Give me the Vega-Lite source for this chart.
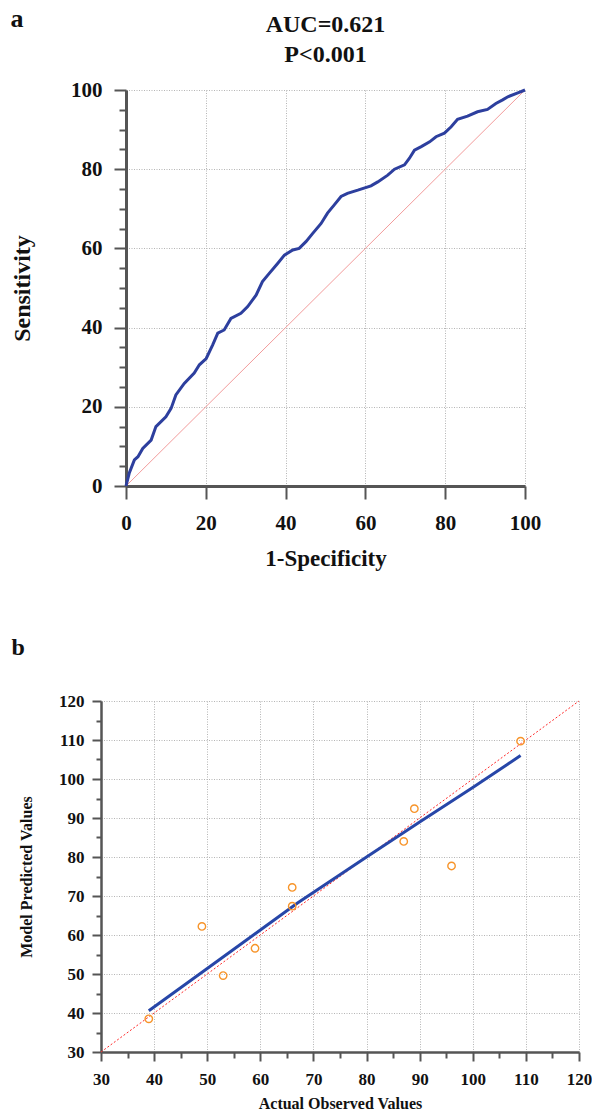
{
  "$schema": "https://vega.github.io/schema/vega-lite/v6.json",
  "background": "white",
  "padding": {"left": 10, "top": 6, "right": 0, "bottom": 0},
  "spacing": 66,
  "config": {
    "font": "Liberation Serif",
    "view": {"stroke": null},
    "axis": {
      "labelFont": "Liberation Serif",
      "labelFontWeight": "bold",
      "labelColor": "#111111",
      "titleFont": "Liberation Serif",
      "titleFontWeight": "bold",
      "titleColor": "#111111",
      "domainColor": "#555555",
      "tickColor": "#555555",
      "tickWidth": 2,
      "gridColor": "#b5b5b5",
      "gridDash": [1, 1.5],
      "gridWidth": 1,
      "labelOverlap": false,
      "labelBound": false,
      "labelFlush": false
    },
    "title": {"font": "Liberation Serif", "fontWeight": "bold", "color": "#111111"}
  },
  "datasets": {
    "roc": [
      {"fpr": 0, "tpr": 0}, {"fpr": 0.8, "tpr": 3.2}, {"fpr": 2.1, "tpr": 6.6}, {"fpr": 3.0, "tpr": 7.4},
      {"fpr": 4.2, "tpr": 9.5}, {"fpr": 6.3, "tpr": 11.6}, {"fpr": 7.5, "tpr": 15.0}, {"fpr": 10.0, "tpr": 17.5},
      {"fpr": 11.3, "tpr": 19.6}, {"fpr": 12.5, "tpr": 23.0}, {"fpr": 14.6, "tpr": 25.9}, {"fpr": 17.1, "tpr": 28.5},
      {"fpr": 18.4, "tpr": 30.6}, {"fpr": 20.1, "tpr": 32.2}, {"fpr": 21.7, "tpr": 35.6}, {"fpr": 23.0, "tpr": 38.6},
      {"fpr": 24.6, "tpr": 39.4}, {"fpr": 26.3, "tpr": 42.3}, {"fpr": 28.8, "tpr": 43.6}, {"fpr": 30.5, "tpr": 45.3},
      {"fpr": 32.6, "tpr": 48.2}, {"fpr": 34.2, "tpr": 51.6}, {"fpr": 35.9, "tpr": 53.7}, {"fpr": 38.0, "tpr": 56.2},
      {"fpr": 39.7, "tpr": 58.3}, {"fpr": 41.8, "tpr": 59.6}, {"fpr": 43.4, "tpr": 60.0}, {"fpr": 45.1, "tpr": 61.7},
      {"fpr": 46.8, "tpr": 63.8}, {"fpr": 48.9, "tpr": 66.3}, {"fpr": 50.5, "tpr": 68.9}, {"fpr": 52.2, "tpr": 71.0},
      {"fpr": 53.9, "tpr": 73.1}, {"fpr": 55.5, "tpr": 73.9}, {"fpr": 58.1, "tpr": 74.7}, {"fpr": 61.4, "tpr": 75.8},
      {"fpr": 63.1, "tpr": 76.8}, {"fpr": 65.6, "tpr": 78.5}, {"fpr": 67.3, "tpr": 80.0}, {"fpr": 69.8, "tpr": 81.1},
      {"fpr": 71.0, "tpr": 82.7}, {"fpr": 72.3, "tpr": 84.8}, {"fpr": 74.0, "tpr": 85.7}, {"fpr": 76.1, "tpr": 86.9},
      {"fpr": 77.7, "tpr": 88.2}, {"fpr": 79.8, "tpr": 89.1}, {"fpr": 81.5, "tpr": 90.7}, {"fpr": 83.1, "tpr": 92.6},
      {"fpr": 85.6, "tpr": 93.4}, {"fpr": 88.1, "tpr": 94.5}, {"fpr": 90.6, "tpr": 95.1}, {"fpr": 92.7, "tpr": 96.6},
      {"fpr": 94.4, "tpr": 97.5}, {"fpr": 95.7, "tpr": 98.3}, {"fpr": 98.2, "tpr": 99.3}, {"fpr": 100, "tpr": 100}
    ],
    "rocDiag": [{"fpr": 0, "tpr": 0}, {"fpr": 100, "tpr": 100}],
    "points": [
      {"actual": 39, "predicted": 38.5}, {"actual": 49, "predicted": 62.2}, {"actual": 53, "predicted": 49.6},
      {"actual": 59, "predicted": 56.6}, {"actual": 66, "predicted": 72.2}, {"actual": 66, "predicted": 67.4},
      {"actual": 87, "predicted": 84.0}, {"actual": 89, "predicted": 92.4}, {"actual": 96, "predicted": 77.7},
      {"actual": 109, "predicted": 109.7}
    ],
    "fit": [
      {"actual": 39, "predicted": 40.6}, {"actual": 50, "predicted": 51.4}, {"actual": 60, "predicted": 61.3},
      {"actual": 67, "predicted": 68.2}, {"actual": 80, "predicted": 80.0}, {"actual": 90, "predicted": 89.0},
      {"actual": 100, "predicted": 97.8}, {"actual": 109, "predicted": 106.0}
    ],
    "diagB": [{"actual": 30, "predicted": 30}, {"actual": 120, "predicted": 120}],
    "empty": []
  },
  "vconcat": [
    {
      "title": {"text": "a", "anchor": "start", "fontSize": 26, "offset": -19},
      "spacing": -92,
      "hconcat": [
        {
          "width": 1,
          "height": 1,
          "data": {"name": "empty"},
          "mark": {"type": "point"}
        },
        {
          "title": {
            "text": "AUC=0.621",
            "subtitle": "P<0.001",
            "anchor": "middle",
            "frame": "group",
            "fontSize": 24,
            "subtitleFont": "Liberation Serif",
            "subtitleFontSize": 24,
            "subtitleFontWeight": "bold",
            "subtitleColor": "#111111",
            "subtitlePadding": 6,
            "offset": 12
          },
          "width": 399,
          "height": 396,
          "encoding": {
            "x": {
              "field": "fpr", "type": "quantitative",
              "scale": {"domain": [0, 100], "nice": false, "zero": false},
              "axis": {
                "title": "1-Specificity",
                "values": [0, 20, 40, 60, 80, 100],
                "labelFontSize": 21,
                "titleFontSize": 23,
                "tickSize": 13,
                "labelPadding": 13,
                "titlePadding": 14,
                "domainWidth": 3
              }
            },
            "y": {
              "field": "tpr", "type": "quantitative",
              "scale": {"domain": [0, 100], "nice": false, "zero": false},
              "axis": {
                "title": "Sensitivity",
                "values": [0, 5, 10, 15, 20, 25, 30, 35, 40, 45, 50, 55, 60, 65, 70, 75, 80, 85, 90, 95, 100],
                "labelExpr": "datum.value % 20 === 0 ? datum.label : ''",
                "tickSize": {"condition": {"test": "datum.value % 20 === 0", "value": 12}, "value": 7},
                "gridOpacity": {"condition": {"test": "datum.value % 20 === 0", "value": 1}, "value": 0},
                "labelFontSize": 21,
                "titleFontSize": 24,
                "labelPadding": 12,
                "titlePadding": 36,
                "domainWidth": 3
              }
            }
          },
          "layer": [
            {
              "data": {"name": "rocDiag"},
              "mark": {"type": "line", "color": "#f29b9b", "strokeWidth": 1}
            },
            {
              "data": {"name": "roc"},
              "mark": {"type": "line", "color": "#2d3f9e", "strokeWidth": 3}
            }
          ]
        }
      ]
    },
    {
      "title": {"text": "b", "anchor": "start", "fontSize": 24, "offset": 32, "dx": -7},
      "vconcat": [
        {
          "width": 478,
          "height": 351,
          "encoding": {
            "x": {
              "field": "actual", "type": "quantitative",
              "scale": {"domain": [30, 120], "nice": false, "zero": false},
              "axis": {
                "title": "Actual Observed Values",
                "values": [30, 35, 40, 45, 50, 55, 60, 65, 70, 75, 80, 85, 90, 95, 100, 105, 110, 115, 120],
                "labelExpr": "datum.value % 10 === 0 ? datum.label : ''",
                "tickSize": {"condition": {"test": "datum.value % 10 === 0", "value": 9}, "value": 6},
                "gridOpacity": {"condition": {"test": "datum.value % 10 === 0", "value": 1}, "value": 0},
                "labelFontSize": 17,
                "titleFontSize": 16,
                "labelPadding": 10,
                "titlePadding": 8,
                "domainWidth": 2.5
              }
            },
            "y": {
              "field": "predicted", "type": "quantitative",
              "scale": {"domain": [30, 120], "nice": false, "zero": false},
              "axis": {
                "title": "Model Predicted Values",
                "values": [30, 35, 40, 45, 50, 55, 60, 65, 70, 75, 80, 85, 90, 95, 100, 105, 110, 115, 120],
                "labelExpr": "datum.value % 10 === 0 ? datum.label : ''",
                "tickSize": {"condition": {"test": "datum.value % 10 === 0", "value": 9}, "value": 5},
                "gridOpacity": {"condition": {"test": "datum.value % 10 === 0", "value": 1}, "value": 0},
                "labelFontSize": 17,
                "titleFontSize": 16,
                "labelPadding": 8,
                "titlePadding": 24,
                "domainWidth": 2.5
              }
            }
          },
          "layer": [
            {
              "data": {"name": "diagB"},
              "mark": {"type": "line", "color": "#ff2a2a", "strokeWidth": 1, "strokeDash": [2, 2]}
            },
            {
              "data": {"name": "fit"},
              "mark": {"type": "line", "color": "#2746a8", "strokeWidth": 3}
            },
            {
              "data": {"name": "points"},
              "mark": {"type": "point", "shape": "circle", "filled": false, "color": "#f7942a", "strokeWidth": 1.4, "size": 55, "opacity": 1}
            }
          ]
        }
      ]
    }
  ]
}
